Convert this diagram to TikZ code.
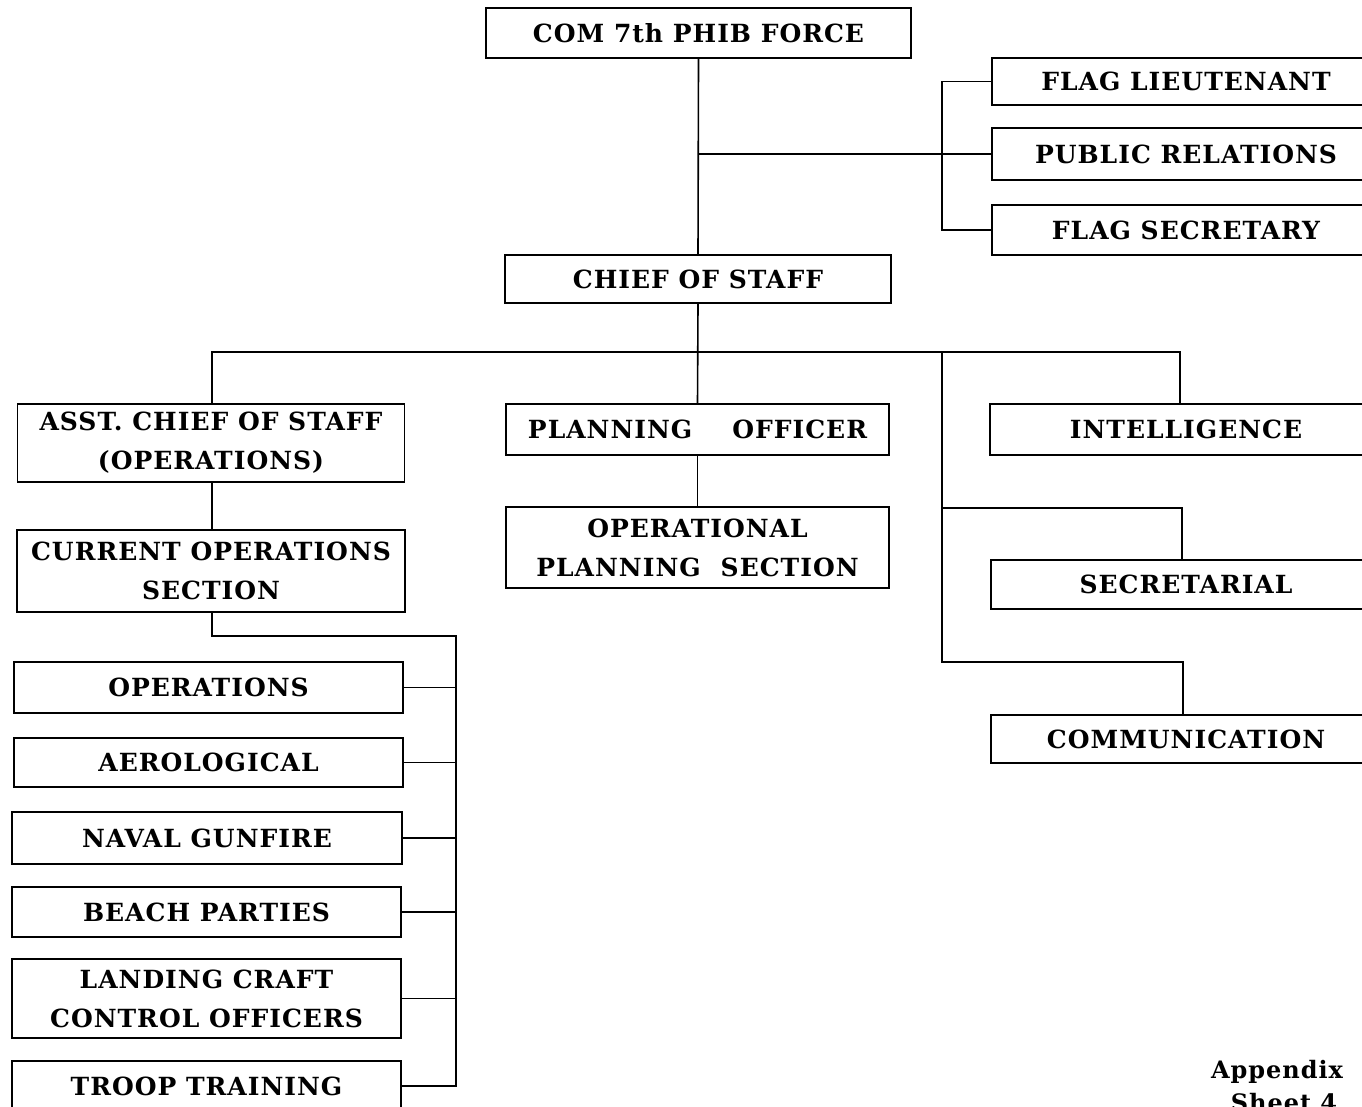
\documentclass[tikz,border=0pt]{standalone}
\usepackage{fontspec}
\setmainfont{DejaVu Serif}
\newfontfamily\chartfont{DejaVu Serif}[BoldFont={DejaVu Serif Bold}, LetterSpace=4]
\begin{document}
\begin{tikzpicture}[x=1pt,y=-1pt,
  box/.style={draw, line width=1.6pt, inner sep=0pt, align=center,
    font=\chartfont\bfseries\fontsize{25}{39}\selectfont},
  link/.style={line width=1.6pt}]
\useasboundingbox (0,0) rectangle (1362,1107);
\clip (0,0) rectangle (1362,1107);
\fill[white] (0,0) rectangle (1362,1107);

% command and personal staff
\node[box, minimum width=425pt, minimum height=50pt] (com) at (698.5,33) {COM 7th PHIB FORCE};
\node[box, minimum width=388pt, minimum height=47pt] (flt) at (1186,81.5) {FLAG LIEUTENANT};
\node[box, minimum width=388pt, minimum height=52pt] (pr)  at (1186,154) {PUBLIC RELATIONS};
\node[box, minimum width=388pt, minimum height=50pt] (fs)  at (1186,230) {FLAG SECRETARY};
\node[box, minimum width=386pt, minimum height=48pt] (cos) at (698,279) {CHIEF OF STAFF};

% operations branch
\node[box, minimum width=387pt, minimum height=78pt] (acos) at (211,443) {ASST. CHIEF OF STAFF\\(OPERATIONS)};
\node[box, minimum width=388pt, minimum height=82pt] (cur)  at (211,571) {CURRENT OPERATIONS\\SECTION};
\node[box, minimum width=389pt, minimum height=51pt] (ops)  at (208.5,687.5) {OPERATIONS};
\node[box, minimum width=389pt, minimum height=49pt] (aero) at (208.5,762.5) {AEROLOGICAL};
\node[box, minimum width=390pt, minimum height=52pt] (ngf)  at (207,838) {NAVAL GUNFIRE};
\node[box, minimum width=389pt, minimum height=50pt] (bp)   at (206.5,912) {BEACH PARTIES};
\node[box, minimum width=389pt, minimum height=79pt] (lcc)  at (206.5,998.5) {LANDING CRAFT\\CONTROL OFFICERS};
\node[box, minimum width=389pt, minimum height=50pt] (tt)   at (206.5,1086) {TROOP TRAINING};

% planning branch
\node[box, minimum width=383pt, minimum height=51pt] (po)  at (697.5,429.5) {PLANNING\hspace{40pt}OFFICER};
\node[box, minimum width=383pt, minimum height=81pt] (ops2) at (697.5,547.5) {OPERATIONAL\\PLANNING\hspace{20pt}SECTION};

% special staff sections
\node[box, minimum width=392pt, minimum height=51pt] (intel) at (1186,429.5) {INTELLIGENCE};
\node[box, minimum width=390pt, minimum height=49pt] (sec)   at (1186,584.5) {SECRETARIAL};
\node[box, minimum width=390pt, minimum height=48pt] (comm)  at (1186,739) {COMMUNICATION};

% junction points of the connectors
\coordinate (tap)   at (698,154);
\coordinate (brk)   at (942,154);
\coordinate (busL)  at (212,352);
\coordinate (busS)  at (942,352);
\coordinate (busR)  at (1180,352);
\coordinate (secJ)  at (942,508);
\coordinate (secT)  at (1182,508);
\coordinate (comJ)  at (942,662);
\coordinate (comT)  at (1183,662);
\coordinate (opsJ)  at (212,636);
\coordinate (opsB)  at (456,636);

% connectors
\draw[link] (com.south) -- (cos.north);
\draw[link] (tap) -- (pr.west);
\draw[link] (flt.west) -| (brk |- fs.west) -- (fs.west);
\draw[link] (cos.south) -- (po.north);
\draw[link] (acos.north -| busL) -- (busL) -- (busR) -- (busR |- intel.north);
\draw[link] (busS) -- (comJ) -- (comT) -- (comT |- comm.north);
\draw[link] (secJ) -- (secT) -- (secT |- sec.north);
\draw[link] (po.south) -- (ops2.north);
\draw[link] (acos.south -| busL) -- (cur.north -| busL);
\draw[link] (cur.south -| opsJ) -- (opsJ) -- (opsB) -- (opsB |- tt.east) -- (tt.east);
\foreach \n in {ops,aero,ngf,bp,lcc}
  \draw[link] (\n.east) -- (\n.east -| opsB);

% sheet reference
\node[font=\chartfont\bfseries\fontsize{24}{30}\selectfont, align=center] (appx) at (1277,1072) {Appendix};
\node[font=\chartfont\bfseries\fontsize{24}{30}\selectfont, align=center] (sheet) at (1284,1103) {Sheet 4};
\end{tikzpicture}
\end{document}
